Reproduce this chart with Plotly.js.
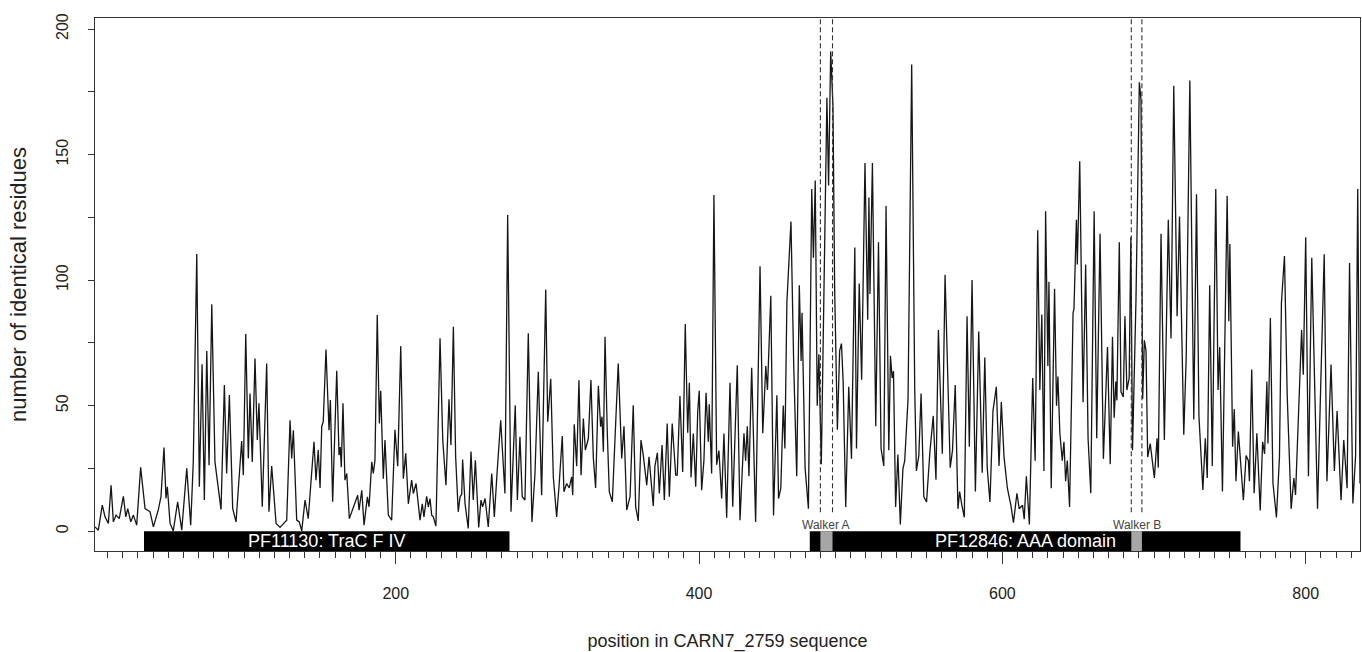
<!DOCTYPE html>
<html>
<head>
<meta charset="utf-8">
<script src="https://cdn.plot.ly/plotly-3.0.1.min.js"></script>
<style>
  html, body { margin: 0; padding: 0; background: #ffffff; }
  #chart { width: 1362px; height: 652px; }
</style>
</head>
<body>
<div id="chart"></div>
<script>
// Sequence positions (residue index) of the line vertices
const positions = [
  1.7,3.9,6.5,8.3,10.5,12.3,13.8,15.6,17.7,20.4,22.0,23.3,25.3,27.0,29.2,31.8,34.7,38.0,40.2,43.4,45.2,47.2,48.5,49.4,51.2,53.3,56.2,58.9,62.2,64.8,66.5,68.8,70.5,72.3,73.8,75.4,76.9,78.7,80.8,84.8,87.0,88.5,90.3,92.5,94.7,98.4,99.5,101.1,102.8,103.9,105.4,107.2,
  108.7,109.8,112.0,114.9,116.4,118.2,121.1,123.7,128.1,130.3,131.4,132.5,134.7,136.4,138.0,140.2,142.3,146.1,147.4,148.9,150.1,151.2,152.2,154.0,156.0,156.9,158.4,161.1,162.6,163.4,164.1,165.2,166.5,167.7,169.4,171.0,173.1,174.9,175.8,177.6,179.1,181.3,182.4,184.2,185.2,186.3,187.8,189.2,190.1,191.8,192.9,194.0,195.1,197.3,199.5,201.3,203.3,205.0,206.6,208.3,210.5,211.6,213.4,
  216.0,217.5,218.6,220.4,221.5,222.6,223.7,224.8,226.5,229.2,231.0,233.1,235.1,236.4,238.0,239.5,241.2,242.4,243.5,244.1,245.7,247.8,249.6,251.1,252.5,254.7,256.2,257.3,258.9,261.0,263.3,265.0,267.0,269.2,272.0,273.8,276.0,278.8,280.2,281.9,283.4,285.2,287.4,289.8,291.8,294.0,296.2,298.9,300.2,302.2,303.9,306.1,307.8,309.8,310.9,312.7,314.4,316.0,316.7,317.7,319.3,320.8,
  322.2,323.7,325.0,327.0,328.7,330.3,331.8,333.6,335.1,336.0,336.9,338.0,339.5,340.8,342.8,344.6,346.7,349.0,350.5,352.3,354.5,356.6,358.2,359.9,361.7,363.2,365.5,367.0,368.8,369.8,370.9,372.5,373.8,375.6,377.1,379.0,380.4,382.3,384.6,385.6,387.4,389.2,390.9,392.5,393.6,394.7,396.2,397.8,399.1,400.1,401.7,403.2,404.6,406.1,406.7,408.3,409.8,411.6,413.1,414.9,416.4,418.2,420.4,422.2,425.2,427.0,
  429.6,430.7,431.8,432.9,434.7,437.3,440.2,442.0,444.0,445.1,447.3,449.1,451.3,452.4,453.9,455.5,456.6,457.9,460.6,462.4,464.4,466.1,467.3,467.9,469.9,472.1,474.3,475.4,476.6,477.9,479.0,480.6,484.3,485.4,486.8,488.3,489.4,491.2,492.7,493.9,495.0,496.7,498.7,500.5,502.7,503.8,505.6,507.2,509.4,511.2,512.0,512.7,514.3,516.5,518.3,520.0,521.8,
  523.3,525.1,526.2,527.3,528.2,529.6,531.1,532.7,534.4,535.6,537.8,540.2,542.2,543.3,544.9,546.4,548.2,550.0,552.2,554.4,556.2,557.8,560.4,562.2,563.8,565.6,567.1,568.9,570.7,571.8,573.3,574.9,576.7,578.2,580.0,582.2,584.4,586.7,588.4,590.0,591.8,593.8,596.0,597.8,599.3,601.1,603.3,605.6,607.3,609.6,611.1,613.3,614.4,615.8,617.8,620.0,621.6,623.3,624.7,626.0,
  627.4,628.5,630.0,630.7,632.2,634.4,635.7,636.6,637.9,639.5,640.6,641.7,642.8,644.3,646.6,647.2,648.8,649.4,651.0,653.2,654.9,656.5,658.3,660.5,662.2,664.4,666.6,669.3,671.1,672.6,673.7,674.8,675.5,677.1,678.2,679.7,680.8,682.1,683.6,684.7,685.8,688.1,690.3,691.4,692.5,693.6,694.7,695.8,697.5,699.1,700.2,702.0,702.8,704.6,706.8,709.4,711.2,713.0,715.2,716.8,719.6,721.2,723.6,726.2,728.0,
  729.6,732.2,733.8,735.1,736.7,738.4,740.7,742.2,743.3,745.1,748.2,749.3,750.0,751.8,752.9,754.0,755.6,757.3,758.9,760.7,762.2,762.9,764.4,766.0,767.8,770.0,771.6,772.9,774.4,775.1,776.7,778.4,780.7,782.7,784.0,786.0,787.8,790.4,792.2,793.3,795.6,797.3,798.4,800.0,801.8,804.0,805.6,807.8,810.0,812.2,814.0,816.7,818.9,820.7,823.3,825.1,827.3,828.9,831.1,832.9,834.3,835.8
];
// Number of identical residues at those positions
const identical = [
  1.7,0.4,10.4,5.7,3.1,18.3,3.7,6.4,5.0,13.9,5.7,9.0,3.7,6.4,2.4,25.4,9.0,7.7,1.7,8.4,13.7,33.3,13.0,17.7,3.1,0.1,11.7,0.4,25.0,2.4,27.6,110.4,17.7,66.5,12.4,71.8,26.3,90.4,27.6,8.6,58.2,23.0,54.2,9.0,3.7,35.9,22.3,78.5,29.0,54.8,27.6,68.8,
  36.3,50.9,9.7,66.8,7.7,25.9,3.1,1.5,4.4,44.2,29.0,40.2,4.4,3.7,0.1,12.4,5.0,35.6,20.3,32.3,17.2,41.7,43.6,72.4,40.2,52.2,11.7,63.9,30.3,33.5,25.5,50.9,20.3,23.0,5.0,7.7,10.4,14.3,8.4,16.3,2.4,13.7,9.7,27.6,23.0,28.2,86.1,42.9,55.9,20.9,36.3,23.0,6.4,4.4,40.4,25.9,73.7,20.9,31.0,10.9,20.3,15.0,19.0,
  4.4,10.9,5.7,13.9,9.7,13.0,6.4,5.7,2.0,76.8,36.3,18.3,52.5,34.3,81.4,29.6,7.7,13.7,14.7,28.5,10.9,1.1,31.7,12.4,28.2,1.5,12.4,9.7,13.0,1.7,23.0,5.7,25.0,44.2,15.0,125.9,7.7,50.1,12.4,37.6,13.7,12.4,78.8,3.7,23.0,63.5,14.3,96.3,43.6,60.7,21.6,5.7,19.0,37.9,15.7,19.0,17.2,21.6,14.3,42.6,25.9,60.1,
  22.3,44.9,32.3,36.9,60.2,29.0,17.2,57.9,41.6,45.6,31.6,77.4,38.9,15.7,11.7,34.3,66.8,29.0,41.8,8.4,13.7,50.1,9.7,4.1,36.3,30.3,18.3,29.6,17.7,10.0,25.9,31.2,15.0,34.3,12.4,42.9,13.7,42.9,22.3,22.3,53.8,23.6,82.5,39.2,59.1,21.4,38.9,17.7,47.6,55.9,16.3,28.2,55.1,35.6,50.5,23.0,133.9,26.5,32.1,13.0,38.9,5.4,59.1,9.7,66.1,4.4,
  39.0,28.1,41.8,21.9,65.1,3.7,105.5,39.0,65.8,56.2,93.8,6.2,54.1,13.0,17.1,50.0,32.9,91.1,123.3,66.4,21.9,97.9,67.8,87.0,25.3,8.9,136.3,108.9,139.7,50.0,70.5,26.7,172.6,137.7,191.1,169.2,96.6,40.4,71.9,74.7,59.6,9.6,57.5,28.8,113.0,32.9,98.6,60.3,146.6,84.2,132.9,94.5,146.6,41.8,115.1,32.9,26.0,
  129.5,32.2,69.9,61.0,63.7,9.6,30.5,2.7,24.7,28.1,52.7,185.9,56.8,24.0,30.1,54.8,13.7,11.6,31.5,45.9,20.5,80.1,30.8,102.1,69.9,25.3,32.2,58.2,8.9,15.8,10.3,5.5,85.6,33.6,100.0,15.8,79.5,23.3,69.2,25.3,11.6,47.9,57.5,26.0,51.4,29.5,17.1,10.3,3.4,15.1,8.9,10.3,4.8,21.9,2.7,61.0,28.1,119.9,56.2,86.3,
  24.0,127.4,65.8,99.3,17.1,96.6,50.0,61.6,39.0,28.1,35.6,19.9,28.1,9.6,87.0,88.4,124.0,106.2,147.3,51.4,106.2,37.0,15.1,127.4,37.0,118.5,28.8,73.3,26.7,77.4,45.2,59.6,52.1,115.1,55.5,53.4,85.6,56.2,61.0,117.1,32.2,92.5,178.8,171.9,52.7,76.0,71.9,29.5,34.9,26.7,21.2,37.0,25.3,118.5,36.3,124.0,76.7,177.4,85.6,125.3,38.4,69.2,179.5,44.5,134.2,
  45.9,16.4,37.0,21.2,97.9,26.0,136.3,56.2,73.3,15.8,133.6,83.6,114.4,33.6,48.6,19.9,39.7,24.0,12.3,30.1,28.1,19.9,64.4,15.1,39.0,8.2,35.6,30.8,59.6,34.9,84.9,19.2,5.5,29.5,91.1,109.6,54.1,8.9,21.2,14.4,54.1,80.1,62.3,117.1,21.9,108.9,66.4,8.9,60.3,110.3,19.9,66.4,24.0,47.9,12.3,36.3,17.1,106.8,11.0,30.1,136.3,19.0
];

// Pfam domains drawn as black bars under the profile
const domainNames = ["PF11130: TraC F IV", "PF12846: AAA domain"];
const domainStart = [34, 473];
const domainEnd = [275, 757];
const domainLabelSize = [18, 18];

// Motifs (grey boxes + dashed guides)
const motifNames = ["Walker A", "Walker B"];
const motifStart = [480, 685];
const motifEnd = [488, 692];

// Axis ticks
const xTickVals = [200, 400, 600, 800];
const yTickVals = [0, 25, 50, 75, 100, 125, 150, 175, 200];
const yTickText = ["0", "", "50", "", "100", "", "150", "", "200"];

const X_RANGE = [1.7, 835.8];
const Y_RANGE = [-7.9, 204.4];
const BAR_BOTTOM = Y_RANGE[0];
const DASH_BOTTOM = 7.5;

const FONT = "Liberation Sans, Arial, Helvetica, sans-serif";

const shapes = [];
const annotations = [];

for (let i = 0; i < domainNames.length; i++) {
  shapes.push({
    type: "rect", xref: "x", yref: "y",
    x0: domainStart[i], x1: domainEnd[i], y0: BAR_BOTTOM, y1: 0,
    fillcolor: "#000000", line: { width: 0 }, layer: "above"
  });
  annotations.push({
    x: (domainStart[i] + domainEnd[i]) / 2, y: BAR_BOTTOM / 2, xref: "x", yref: "y",
    text: domainNames[i], showarrow: false,
    font: { family: FONT, size: domainLabelSize[i], color: "#ffffff" },
    xanchor: "center", yanchor: "middle"
  });
}

for (let i = 0; i < motifNames.length; i++) {
  shapes.push({
    type: "rect", xref: "x", yref: "y",
    x0: motifStart[i], x1: motifEnd[i], y0: BAR_BOTTOM, y1: 0,
    fillcolor: "#a6a6a6", line: { width: 0 }, layer: "above"
  });
  [motifStart[i], motifEnd[i]].forEach(function (xv) {
    shapes.push({
      type: "line", xref: "x", yref: "y",
      x0: xv, x1: xv, y0: DASH_BOTTOM, y1: Y_RANGE[1],
      line: { color: "#333333", width: 1.1, dash: "5px,3px" }, layer: "above"
    });
  });
  annotations.push({
    x: (motifStart[i] + motifEnd[i]) / 2, y: 2.6, xref: "x", yref: "y",
    text: motifNames[i], showarrow: false,
    font: { family: FONT, size: 12, color: "#444444" },
    xanchor: "center", yanchor: "middle"
  });
}

const trace = {
  x: positions,
  y: identical,
  type: "scatter",
  mode: "lines",
  line: { color: "#161616", width: 1.3 },
  hoverinfo: "x+y",
  showlegend: false
};

const layout = {
  width: 1362,
  height: 652,
  margin: { l: 95, r: 2, t: 18, b: 101 },
  paper_bgcolor: "#ffffff",
  plot_bgcolor: "#ffffff",
  font: { family: FONT, size: 16, color: "#222222" },
  showlegend: false,
  xaxis: {
    range: X_RANGE,
    tickmode: "array",
    tickvals: xTickVals,
    ticks: "outside",
    ticklen: 12,
    tickwidth: 1,
    tickcolor: "#333333",
    ticklabelstandoff: 16,
    tickfont: { family: FONT, size: 16, color: "#222222" },
    minor: { dtick: 10, tick0: 0, ticks: "outside", ticklen: 6, tickwidth: 1, tickcolor: "#333333", showgrid: false },
    showgrid: false,
    zeroline: false,
    showline: true,
    linecolor: "#333333",
    linewidth: 1,
    mirror: true,
    title: { text: "position in CARN7_2759 sequence", font: { family: FONT, size: 18, color: "#222222" }, standoff: 36 }
  },
  yaxis: {
    range: Y_RANGE,
    tickmode: "array",
    tickvals: yTickVals,
    ticktext: yTickText,
    tickangle: -90,
    ticks: "outside",
    ticklen: 6,
    tickwidth: 1,
    tickcolor: "#333333",
    ticklabelstandoff: 14,
    tickfont: { family: FONT, size: 16, color: "#222222" },
    showgrid: false,
    zeroline: false,
    showline: true,
    linecolor: "#333333",
    linewidth: 1,
    mirror: true,
    title: { text: "number of identical residues", font: { family: FONT, size: 22, color: "#222222" }, standoff: 20 }
  },
  shapes: shapes,
  annotations: annotations
};

Plotly.newPlot("chart", [trace], layout, { displayModeBar: false, staticPlot: true });
</script>
</body>
</html>
